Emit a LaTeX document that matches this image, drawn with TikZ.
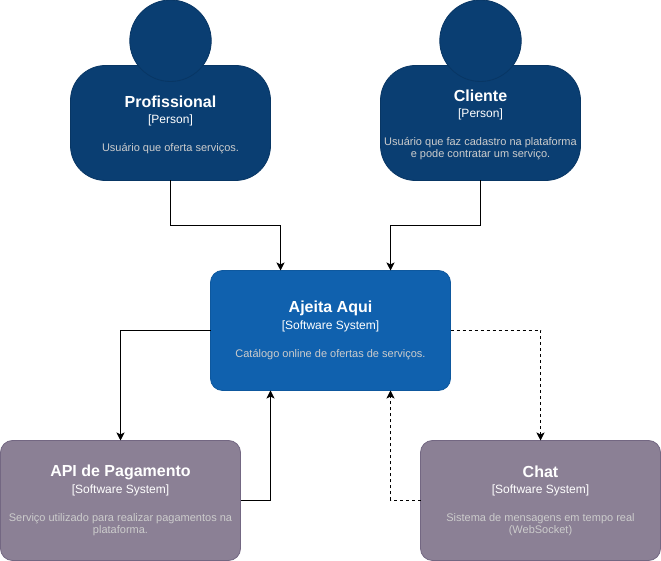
\documentclass[tikz,border=0pt]{standalone}
\usepackage{fontspec}
\setmainfont{Liberation Sans}
\usepackage{xcolor}
\usetikzlibrary{positioning,shapes,arrows.meta}
\definecolor{persondark}{HTML}{0A3E72}
\definecolor{personline}{HTML}{083664}
\definecolor{systemblue}{HTML}{1061AE}
\definecolor{systemline}{HTML}{0E589E}
\definecolor{externalgray}{HTML}{8B8095}
\definecolor{externalline}{HTML}{736782}
\definecolor{desctext}{HTML}{CCCCCC}
\newcommand{\descfont}{\fontsize{11}{14}\selectfont\color{desctext}}
\newcommand{\boxlabel}[3]{{\fontsize{16}{18}\selectfont\bfseries #1}\\[4pt]{\fontsize{12}{14}\selectfont [#2]}\\[16pt]\descfont #3}

\begin{document}
\begin{tikzpicture}[
x=1pt,y=1pt,
  body/.style={draw,line width=0.8pt,outer sep=0pt,text=white,align=center,inner sep=0pt},
  pnode/.style={body,draw=personline,fill=persondark,minimum width=200pt,minimum height=115pt,rounded corners=35pt},
  hnode/.style={circle,draw=personline,line width=0.8pt,outer sep=0pt,fill=persondark,minimum size=81.5pt,inner sep=0pt},
  snode/.style={body,draw=systemline,fill=systemblue,minimum width=240pt,minimum height=120pt,rounded corners=12pt},
  enode/.style={body,draw=externalline,fill=externalgray,minimum width=240pt,minimum height=120pt,rounded corners=12pt},
  rel/.style={-{Stealth[length=8pt,width=8pt,inset=2pt]},line width=0.8pt},
  drel/.style={rel,dash pattern=on 3pt off 3pt}
]
\useasboundingbox (0,0) rectangle (661,561);
\node[snode] (ajeita) at (330.5,230.5) {\boxlabel{Ajeita Aqui}{Software System}{Catálogo online de ofertas de serviços.}};
\node[enode,below left=50pt and -30pt of ajeita] (api) {\boxlabel{API de Pagamento}{Software System}{Serviço utilizado para realizar pagamentos na\\\descfont plataforma.}};
\node[enode,below right=50pt and -30pt of ajeita] (chat) {\boxlabel{Chat}{Software System}{Sistema de mensagens em tempo real\\\descfont (WebSocket)}};
\node[pnode,above left=90pt and -60pt of ajeita] (prof) {\boxlabel{\rule{0pt}{15pt}Profissional}{Person}{Usuário que oferta serviços.}};
\node[pnode,above right=90pt and -70pt of ajeita] (cliente) {\boxlabel{\rule{0pt}{15pt}Cliente}{Person}{Usuário que faz cadastro na plataforma\\\descfont e pode contratar um serviço.}};
\node[hnode,above=-16pt of prof] (profhead) {};
\node[hnode,above=-16pt of cliente] (clientehead) {};
\coordinate (topleft) at ([xshift=-50pt]ajeita.north);
\coordinate (topright) at ([xshift=60pt]ajeita.north);
\coordinate (botleft) at ([xshift=-60pt]ajeita.south);
\coordinate (botright) at ([xshift=60pt]ajeita.south);
\draw[rel] (prof.south) -- ++(0,-45) -| (topleft);
\draw[rel] (cliente.south) -- ++(0,-45) -| (topright);
\draw[rel] (ajeita.west) -| (api.north);
\draw[rel] (api.east) -| (botleft);
\draw[drel] (ajeita.east) -| (chat.north);
\draw[drel] (chat.west) -| (botright);
\end{tikzpicture}
\end{document}
